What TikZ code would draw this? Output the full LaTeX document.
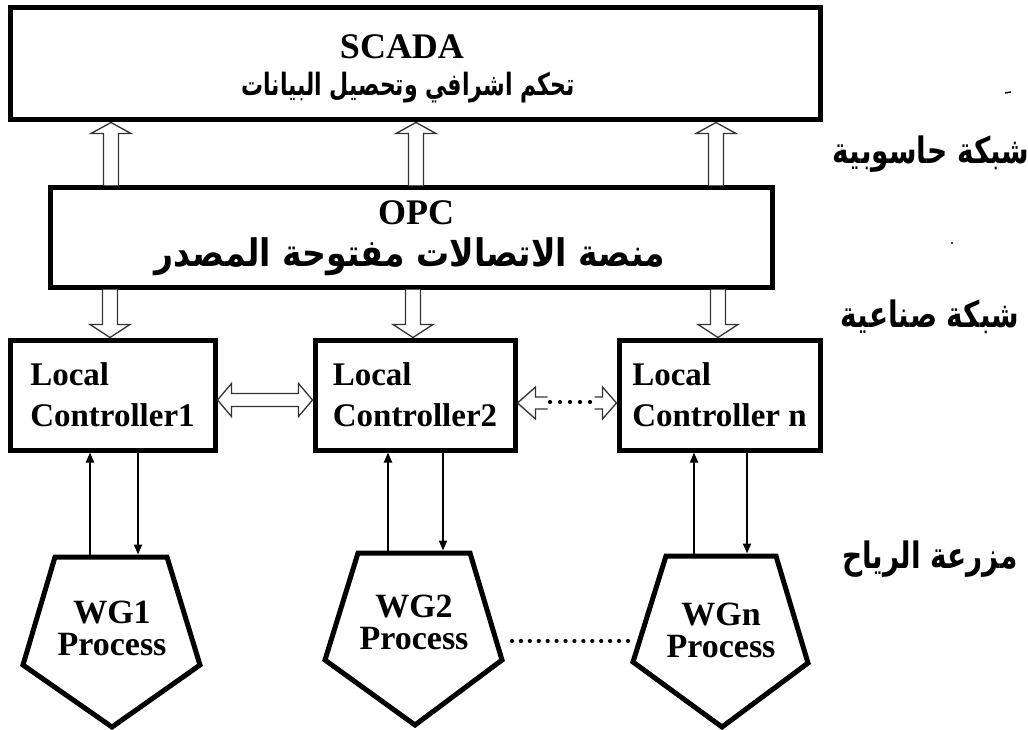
\documentclass[tikz,border=0pt]{standalone}
\usepackage{fontspec}
\usepackage{graphicx}
\setmainfont{Liberation Serif}
\newfontfamily\arabicfont[Script=Arabic]{DejaVu Sans}
\TeXXeTstate=1
\usetikzlibrary{calc,arrows.meta}
% bold Arabic, stretched vertically by #1
\newcommand\artext[2]{\scalebox{1}[#1]{\arabicfont\bfseries #2}}

% hollow block arrow pointing up from the top of #2 to the bottom of #3, at x = #1
\newcommand\hollowup[3]{%
  \draw[hollow] let \p1=(#2.north), \p2=(#3.south) in
    (#1pt-7.5pt,\y1) -- (#1pt-7.5pt,\y2-11pt) -- (#1pt-20pt,\y2-11pt) -- (#1pt,\y2)
    -- (#1pt+20pt,\y2-11pt) -- (#1pt+7.5pt,\y2-11pt) -- (#1pt+7.5pt,\y1);}
% hollow block arrow pointing down from the bottom of #2 to the top of #3, at x = #1
\newcommand\hollowdown[3]{%
  \draw[hollow] let \p1=(#2.south), \p2=(#3.north) in
    (#1pt-7.5pt,\y1) -- (#1pt-7.5pt,\y2+13pt) -- (#1pt-20pt,\y2+13pt) -- (#1pt,\y2)
    -- (#1pt+20pt,\y2+13pt) -- (#1pt+7.5pt,\y2+13pt) -- (#1pt+7.5pt,\y1);}

\begin{document}
\begin{tikzpicture}[x=1pt,y=-1pt,
  box/.style={draw,line width=5pt,fill=white,inner sep=0pt},
  title/.style={font=\bfseries\fontsize{36}{40}\selectfont,inner sep=0pt},
  lctext/.style={box,minimum height=110pt,align=left,
    font=\bfseries\fontsize{33}{41}\selectfont},
  wgtext/.style={align=center,inner sep=0pt,font=\bfseries\fontsize{34}{32}\selectfont},
  wgshape/.style={line width=5pt,line join=miter,fill=white},
  hollow/.style={draw=black!80,line width=1.3pt,fill=white,line join=miter},
  signal/.style={line width=2pt,-{Triangle[length=10pt,width=8pt]}},
  dotline/.style={line width=4.2pt,line cap=round,dash pattern=on 0pt off 8.92pt},
  dotshort/.style={line width=4.2pt,line cap=round,dash pattern=on 0pt off 10pt},
  level/.style={inner sep=0pt,font=\fontsize{28}{30}\selectfont}]

\useasboundingbox (0,0) rectangle (1028,730);

% supervisory level
\node[box,minimum width=810pt,minimum height=112pt] (scada) at (415,64) {};
\node[title] (scadat) at (402,47) {SCADA};
\node[inner sep=0pt,font=\fontsize{22}{24}\selectfont] (scadaa) at (408,88)
  {\artext{1.4}{\beginR تحكم اشرافي وتحصيل البيانات\endR}};

% communication platform
\node[box,minimum width=722pt,minimum height=99pt] (opc) at (411,237.5) {};
\node[title] (opct) at (416,213) {OPC};
\node[inner sep=0pt,font=\fontsize{33}{35}\selectfont] (opca) at (410,257)
  {\artext{1.15}{\beginR منصة الاتصالات مفتوحة المصدر\endR}};

% local controllers
\node[lctext,minimum width=205pt] (lc1) at (112.5,395) {Local\\Controller1};
\node[lctext,minimum width=200pt] (lc2) at (415,395) {Local\\Controller2};
\node[lctext,minimum width=201pt] (lcn) at (719.5,395) {Local\\Controller n};

% wind generator processes
\draw[wgshape] (55,557) -- (167,557) -- (200,665) -- (112,727) -- (23,665) -- cycle;
\draw[wgshape] (358,553) -- (470,553) -- (502,660) -- (415,725) -- (325,660) -- cycle;
\draw[wgshape] (666,556) -- (776,556) -- (808,663) -- (722,727) -- (633,662) -- cycle;
\coordinate (wg1top) at (111,554.5);
\coordinate (wg2top) at (414,550.5);
\coordinate (wgntop) at (721,553.5);
\node[wgtext] (wg1) at (112,628) {WG1\\Process};
\node[wgtext] (wg2) at (414,622) {WG2\\Process};
\node[wgtext] (wgn) at (721,630) {WGn\\Process};
\coordinate (wg2r) at (512,641);
\coordinate (wgnl) at (628.2,641);
\draw[dotline] (wg2r) -- (wgnl);

% computer network links
\hollowup{111}{opc}{scada}
\hollowup{416}{opc}{scada}
\hollowup{716}{opc}{scada}

% industrial network links
\hollowdown{110}{opc}{lc1}
\hollowdown{413}{opc}{lc2}
\hollowdown{718}{opc}{lcn}

% controller to controller links
\draw[hollow] let \p1=(lc1.east), \p2=(lc2.west) in
  (\x1,\y1-5pt) -- (\x1+14pt,\y1+11.5pt) -- (\x1+14pt,\y1+1.5pt) -- (\x2-14pt,\y1+1.5pt)
  -- (\x2-14pt,\y1+11.5pt) -- (\x2,\y1-5pt) -- (\x2-14pt,\y1-21.5pt) -- (\x2-14pt,\y1-11.5pt)
  -- (\x1+14pt,\y1-11.5pt) -- (\x1+14pt,\y1-21.5pt) -- cycle;
\draw[hollow] let \p1=(lc2.east), \p2=(lcn.west) in
  (\x1+30pt,\y1-2pt) -- (\x1+18pt,\y1-2pt) -- (\x1+18pt,\y1+8pt) -- (\x1,\y1-8pt)
  -- (\x1+18pt,\y1-24pt) -- (\x1+18pt,\y1-14pt) -- (\x1+30pt,\y1-14pt)
  (\x2-22pt,\y1-2pt) -- (\x2-14pt,\y1-2pt) -- (\x2-14pt,\y1+8pt) -- (\x2,\y1-8pt)
  -- (\x2-14pt,\y1-24pt) -- (\x2-14pt,\y1-14pt) -- (\x2-22pt,\y1-14pt);
\draw[dotshort] let \p1=(lc2.east) in (\x1+32.5pt,\y1-7pt) -- (\x1+73pt,\y1-7pt);

% controller to process signals
\draw[signal] (wg1top -| 90,0) -- (lc1.south -| 90,0);
\draw[signal] (lc1.south -| 138,0) -- (wg1top -| 138,0);
\draw[signal] (wg2top -| 388,0) -- (lc2.south -| 388,0);
\draw[signal] (lc2.south -| 443,0) -- (wg2top -| 443,0);
\draw[signal] (wgntop -| 694,0) -- (lcn.south -| 694,0);
\draw[signal] (lcn.south -| 747,0) -- (wgntop -| 747,0);

% level labels
\node[level] (net1) at (931,154) {\artext{1.3}{\beginR شبكة حاسوبية\endR}};
\node[level] (net2) at (930,317) {\artext{1.3}{\beginR شبكة صناعية\endR}};
\node[level] (net3) at (930,559) {\artext{1.3}{\beginR مزرعة الرياح\endR}};

% stray specks
\draw[line width=1.4pt] (1005,93) -- (1011,92);
\fill (952,243) circle (1.1pt);
\end{tikzpicture}
\end{document}
